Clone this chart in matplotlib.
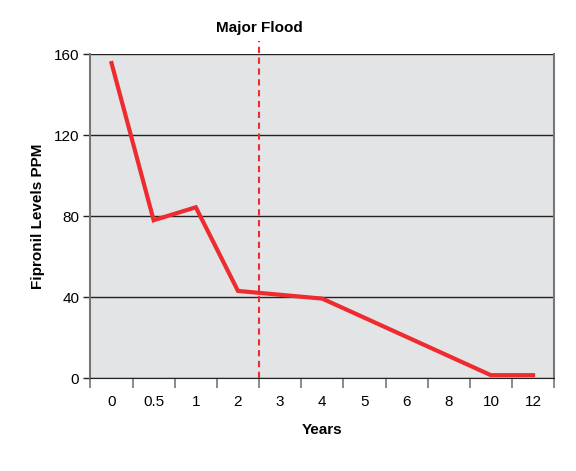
import matplotlib
matplotlib.use("Agg")
import matplotlib.pyplot as plt
import numpy as np

plt.rcParams['font.family'] = ['Liberation Sans', 'DejaVu Sans']

# Categorías del eje x (años) y mediciones; None = sin medición en ese año
years = ["0", "0.5", "1", "2", "3", "4", "5", "6", "8", "10", "12"]
fipronil_ppm = [155.6, 78, 84.4, 43.1, None, 39.3, None, None, None, 1.5, 1.5]
y_ticks = [0, 40, 80, 120, 160]
flood_label = "Major Flood"
flood_after = "2"  # la inundación cae entre los años 2 y 3

red = "#ee2b2f"

fig = plt.figure(figsize=(5.76, 4.71), dpi=100)
ax = fig.add_axes([0.157, 0.197, 0.805, 0.688])
ax.set_facecolor("#e3e4e6")

idx = np.arange(len(years))
pts = [(i, v) for i, v in zip(idx, fipronil_ppm) if v is not None]
xs, ys = zip(*pts)
ax.plot(xs, ys, color=red, linewidth=3.0, solid_joinstyle='miter', zorder=3)

# línea de la inundación
fx = years.index(flood_after) + 0.5
ax.axvline(fx, ymin=0, ymax=1.04, color=red, linestyle=(0, (3, 2.2)), linewidth=1.5,
           clip_on=False, zorder=4)
ax.text(fx, 172.8, flood_label, ha='center', va='center', fontsize=11, fontweight='bold')

# cuadrícula horizontal
for t in y_ticks:
    ax.axhline(t, color="#222222", linewidth=1.0, zorder=2)

ax.set_xlim(-0.5, len(years) - 0.5)
ax.set_ylim(0, 160)
ax.set_yticks(y_ticks)
ax.set_yticklabels([str(t) for t in y_ticks], fontsize=11)
ax.tick_params(axis='y', length=5, width=1.0, color="#222222", pad=3)

# ticks x en los límites, etiquetas al centro
ax.set_xticks(np.arange(-0.5, len(years)), minor=False)
ax.set_xticklabels([])
ax.set_xticks(idx, minor=True)
ax.set_xticklabels(years, minor=True, fontsize=11)
ax.tick_params(axis='x', which='major', length=7, width=1.2, color="#777777", direction='out')
ax.tick_params(axis='x', which='minor', length=0, pad=12)

for s in ['left', 'right']:
    ax.spines[s].set_color("#777777")
    ax.spines[s].set_linewidth(1.5)
ax.spines['top'].set_visible(False)
ax.spines['bottom'].set_color("#222222")

ax.set_xlabel("Years", fontsize=11, fontweight='bold', labelpad=10)
ax.set_ylabel("Fipronil Levels PPM", fontsize=11, fontweight='bold', labelpad=6)

fig.savefig("out.png", dpi=100)
